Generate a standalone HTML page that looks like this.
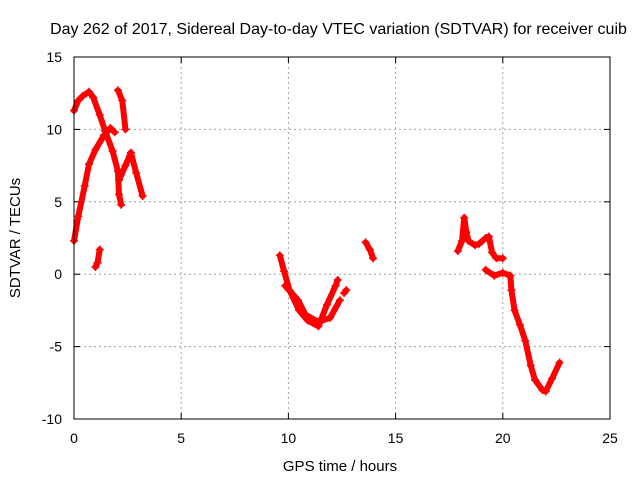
<!DOCTYPE html>
<html><head><meta charset="utf-8"><style>
body{margin:0;background:#fff}
svg{display:block;font-family:"Liberation Sans",sans-serif}
</style></head><body>
<svg id="chart" width="640" height="480">
<text x="338.5" y="34" font-size="16" text-anchor="middle">Day 262 of 2017, Sidereal Day-to-day VTEC variation (SDTVAR) for receiver cuib</text>
<text x="340" y="471" font-size="15" text-anchor="middle">GPS time / hours</text>
<text transform="translate(20,238) rotate(-90)" font-size="15" text-anchor="middle">SDTVAR / TECUs</text>
<g id="grid"></g><g id="series"></g>
<rect x="74" y="57" width="536" height="362" fill="none" stroke="#000" stroke-width="1"/>
</svg>
<script>
const xTicks=[0,5,10,15,20,25];
const yTicks=[-10,-5,0,5,10,15];
const segA_t=[0,0.2,0.4,0.7,0.9,1.2,1.45,1.8,2.05,2.1,2.2];
const segA_v=[11.3,12.0,12.3,12.6,12.2,11.0,9.9,8.5,7.1,5.5,4.8];
const segB_t=[0,0.2,0.5,0.7,1.0,1.4,1.7,1.9];
const segB_v=[2.3,4.0,6.1,7.6,8.6,9.6,10.1,9.8];
const segC_t=[2.05,2.25,2.4];
const segC_v=[12.7,12.0,10.0];
const segD_t=[1.0,1.1,1.2];
const segD_v=[0.5,0.8,1.7];
const segE_t=[2.1,2.4,2.65,2.9,3.2];
const segE_v=[6.5,7.5,8.4,7.0,5.4];
const segF_t=[9.6,9.8,10.05,10.5,10.9,11.4,11.8,12.2,12.3];
const segF_v=[1.3,0.2,-1.1,-2.5,-3.2,-3.6,-2.1,-0.8,-0.4];
const segG_t=[9.85,10.45,10.8,11.4,11.95,12.4];
const segG_v=[-0.8,-1.8,-2.8,-3.3,-3.0,-1.8];
const segH_t=[12.6,12.7];
const segH_v=[-1.3,-1.1];
const segI_t=[13.6,13.8,13.95];
const segI_v=[2.2,1.7,1.1];
const segJ_t=[17.9,18.1,18.2,18.3,18.4,18.7,18.9,19.2,19.35,19.5,19.7,20.0];
const segJ_v=[1.6,2.3,3.9,2.9,2.3,2.0,2.1,2.5,2.6,1.5,1.1,1.1];
const segK_t=[19.2,19.6,20.0,20.35,20.4,20.55,20.8,21.05,21.3,21.5,21.85,22.0,22.3,22.65];
const segK_v=[0.3,-0.1,0.1,-0.1,-1.1,-2.5,-3.5,-4.6,-6.3,-7.3,-8.0,-8.1,-7.2,-6.1];
const segs=[[segA_t,segA_v],[segB_t,segB_v],[segC_t,segC_v],[segD_t,segD_v],[segE_t,segE_v],[segF_t,segF_v],[segG_t,segG_v],[segH_t,segH_v],[segI_t,segI_v],[segJ_t,segJ_v],[segK_t,segK_v]];
const NS="http://www.w3.org/2000/svg";
const X=t=>74+t*536/25, Y=v=>419-(v+10)*362/25;
const grid=document.getElementById('grid'), ser=document.getElementById('series');
function mk(tag,at,parent){const e=document.createElementNS(NS,tag);for(const k in at)e.setAttribute(k,at[k]);parent.appendChild(e);return e;}
xTicks.forEach(t=>{
 if(t>0&&t<25){const l=mk('line',{x1:X(t),x2:X(t),y1:57,y2:419,stroke:'#a0a0a0','stroke-dasharray':'2,3'},grid);
 
 }
 mk('line',{x1:X(t),x2:X(t),y1:419,y2:413,stroke:'#000'},grid);
 mk('line',{x1:X(t),x2:X(t),y1:57,y2:63,stroke:'#000'},grid);
 const tx=mk('text',{x:X(t),y:443,'font-size':14,'text-anchor':'middle'},grid);tx.textContent=t;
 
 
});
yTicks.forEach(v=>{
 if(v>-10&&v<15){const l=mk('line',{x1:74,x2:610,y1:Y(v),y2:Y(v),stroke:'#a0a0a0','stroke-dasharray':'2,3'},grid);
 
 }
 mk('line',{x1:74,x2:80,y1:Y(v),y2:Y(v),stroke:'#000'},grid);
 mk('line',{x1:604,x2:610,y1:Y(v),y2:Y(v),stroke:'#000'},grid);
 const tx=mk('text',{x:62,y:Y(v)+5,'font-size':14,'text-anchor':'end'},grid);tx.textContent=v;
 
 
});
segs.forEach(([ts,vs])=>{
 const pts=ts.map((t,i)=>X(t)+','+Y(vs[i])).join(' ');
 const p=mk('polyline',{points:pts,fill:'none',stroke:'#f00','stroke-width':6,'stroke-linejoin':'round','stroke-linecap':'round'},ser);
 
 
 ts.forEach((t,i)=>{
  const x=X(t),y=Y(vs[i]);
  const m=mk('path',{d:`M${x-4},${y}H${x+4}M${x},${y-4}V${y+4}`,stroke:'#f00','stroke-width':1.5},ser);
  
  
 });
});
</script>
</body></html>
